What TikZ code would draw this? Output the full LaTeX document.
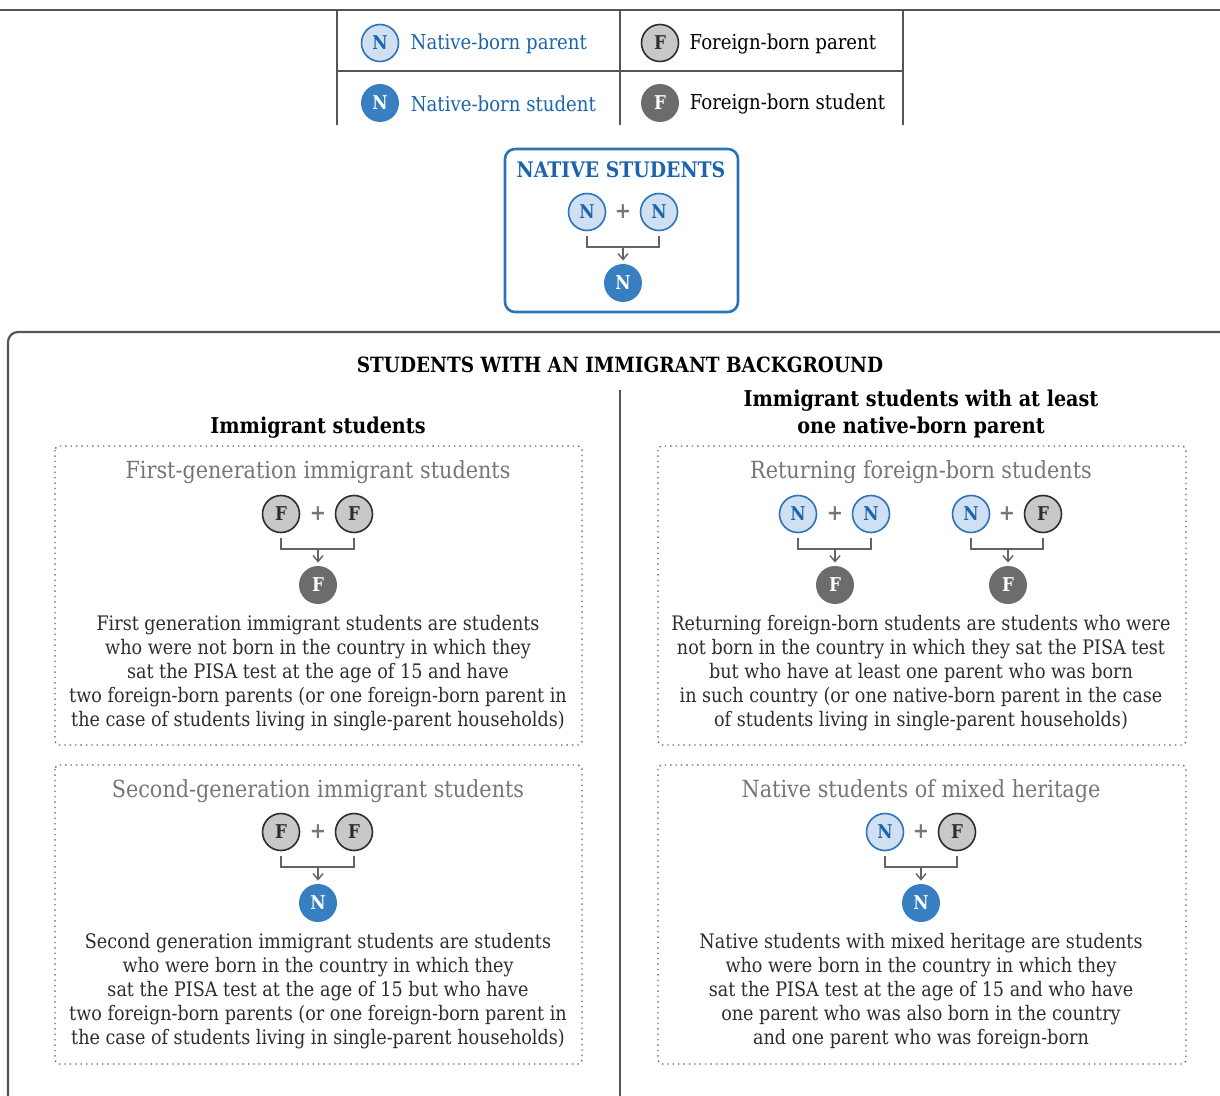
\documentclass[tikz,border=0pt]{standalone}
\usepackage{fontspec}
\setmainfont[FakeStretch=0.88]{DejaVu Serif}
\usetikzlibrary{positioning,arrows.meta}

\definecolor{nblue}{RGB}{28,100,172}
\definecolor{nborder}{RGB}{45,115,185}
\definecolor{nlight}{RGB}{206,224,241}
\definecolor{nstudent}{RGB}{55,127,192}
\definecolor{fborder}{RGB}{45,45,45}
\definecolor{flight}{RGB}{200,200,200}
\definecolor{fstudent}{RGB}{108,108,108}
\definecolor{headgray}{RGB}{118,118,118}
\definecolor{bodytext}{RGB}{45,45,45}
\definecolor{framegray}{RGB}{85,85,85}
\definecolor{brgray}{RGB}{100,100,100}

\begin{document}
\begin{tikzpicture}[x=0.5pt,y=-0.5pt,
  npar/.style={circle,draw=nborder,fill=nlight,line width=0.8pt,minimum size=18.5pt,inner sep=0pt,
    text=nblue,font=\bfseries\fontsize{9.5}{9.5}\selectfont},
  fpar/.style={circle,draw=fborder,fill=flight,line width=0.8pt,minimum size=18.5pt,inner sep=0pt,
    text=fborder,font=\bfseries\fontsize{9.5}{9.5}\selectfont},
  nstu/.style={circle,fill=nstudent,minimum size=19pt,inner sep=0pt,
    text=white,font=\bfseries\fontsize{9.5}{9.5}\selectfont},
  fstu/.style={circle,fill=fstudent,minimum size=19pt,inner sep=0pt,
    text=white,font=\bfseries\fontsize{9.5}{9.5}\selectfont},
  plus/.style={text=headgray,font=\bfseries\fontsize{11}{11}\selectfont,inner sep=0pt},
  bracket/.style={draw=brgray,line width=0.7pt},
  drop/.style={draw=brgray,line width=0.7pt,-{Straight Barb[length=3pt,width=5pt]},shorten >=1.5pt},
  legtext/.style={inner sep=0pt,font=\fontsize{10.3}{12}\selectfont},
  body/.style={inner sep=0pt,align=center,text=bodytext,font=\fontsize{10}{12}\selectfont},
  subhead/.style={inner sep=0pt,text=headgray,font=\fontsize{11.8}{13}\selectfont},
  colhead/.style={inner sep=0pt,align=center,text=black,font=\bfseries\fontsize{10.9}{13.5}\selectfont},
  caphead/.style={inner sep=0pt,text=black,font=\bfseries\fontsize{10.5}{13.5}\selectfont},
  rule/.style={draw=framegray,line width=1.1pt},
  grid/.style={draw=framegray,line width=0.6pt},
  dotbox/.style={draw=brgray,dotted,line width=0.7pt,rounded corners=2pt},
  nbox/.style={draw=nborder,line width=1.3pt,rounded corners=5pt}]

\useasboundingbox (0,0) rectangle (1220,1096);

% legend
\draw[rule] (0,10) -- (1220,10);
\draw[grid] (337,10) -- (337,125);
\draw[grid] (620,10) -- (620,125);
\draw[grid] (903,10) -- (903,125);
\draw[grid] (337,71) -- (903,71);

\node[npar] (lgNp) at (380,43) {N};
\node[fpar] (lgFp) at (660,43) {F};
\node[nstu] (lgNs) at (380,103) {N};
\node[fstu] (lgFs) at (660,103) {F};

\node[legtext,text=nblue,right=5.5pt of lgNp,yshift=-0.5pt] {Native-born parent};
\node[legtext,right=5pt of lgFp,yshift=-0.5pt] {Foreign-born parent};
\node[legtext,text=nblue,right=5.5pt of lgNs,yshift=-0.5pt] {Native-born student};
\node[legtext,right=5pt of lgFs,yshift=-0.5pt] {Foreign-born student};

% native students
\draw[nbox] (505,149) rectangle (738,312);
\node[caphead,text=nblue,font=\bfseries\fontsize{10.7}{13.5}\selectfont] at (621,170) {NATIVE STUDENTS};
\node[npar] (na) at (587,212) {N};
\node[plus] at (623,212) {+};
\node[npar] (nb) at (659,212) {N};
\coordinate (nj) at (623,247);
\node[nstu] (nc) at (623,283) {N};
\draw[bracket] ([yshift=-2.5pt]na.south) |- (nj) -| ([yshift=-2.5pt]nb.south);
\draw[drop] (nj) -- (nc.north);

% immigrant background frame
\draw[rule,rounded corners=5pt] (8,1120) -- (8,332) -- (1240,332);
\draw[grid] (620,390) -- (620,1096);
\node[caphead] at (620,365) {STUDENTS WITH AN IMMIGRANT BACKGROUND};
\node[colhead] at (318,428) {Immigrant students};
\node[colhead] at (921,414) {Immigrant students with at least\\one native-born parent};

% first generation
\draw[dotbox] (55,446) rectangle (582,745);
\node[subhead] at (318,472) {First-generation immigrant students};
\node[fpar] (ga) at (281,514) {F};
\node[plus] at (318,514) {+};
\node[fpar] (gb) at (354,514) {F};
\coordinate (gj) at (318,549);
\node[fstu] (gc) at (318,585) {F};
\draw[bracket] ([yshift=-2.5pt]ga.south) |- (gj) -| ([yshift=-2.5pt]gb.south);
\draw[drop] (gj) -- (gc.north);
\node[body,anchor=north] at (318,615) {First generation immigrant students are students\\
who were not born in the country in which they\\
sat the PISA test at the age of 15 and have\\
two foreign-born parents (or one foreign-born parent in\\
the case of students living in single-parent households)};

% second generation
\draw[dotbox] (55,765) rectangle (582,1064);
\node[subhead] at (318,791) {Second-generation immigrant students};
\node[fpar] (sa) at (281,832) {F};
\node[plus] at (318,832) {+};
\node[fpar] (sb) at (354,832) {F};
\coordinate (sj) at (318,867);
\node[nstu] (sc) at (318,903) {N};
\draw[bracket] ([yshift=-2.5pt]sa.south) |- (sj) -| ([yshift=-2.5pt]sb.south);
\draw[drop] (sj) -- (sc.north);
\node[body,anchor=north] at (318,933) {Second generation immigrant students are students\\
who were born in the country in which they\\
sat the PISA test at the age of 15 but who have\\
two foreign-born parents (or one foreign-born parent in\\
the case of students living in single-parent households)};

% returning foreign-born
\draw[dotbox] (658,446) rectangle (1186,745);
\node[subhead] at (921,472) {Returning foreign-born students};
\node[npar] (ra) at (798,514) {N};
\node[plus] at (835,514) {+};
\node[npar] (rb) at (871,514) {N};
\coordinate (rj) at (835,549);
\node[fstu] (rc) at (835,585) {F};
\draw[bracket] ([yshift=-2.5pt]ra.south) |- (rj) -| ([yshift=-2.5pt]rb.south);
\draw[drop] (rj) -- (rc.north);
\node[npar] (qa) at (971,514) {N};
\node[plus] at (1007,514) {+};
\node[fpar] (qb) at (1043,514) {F};
\coordinate (qj) at (1008,549);
\node[fstu] (qc) at (1008,585) {F};
\draw[bracket] ([yshift=-2.5pt]qa.south) |- (qj) -| ([yshift=-2.5pt]qb.south);
\draw[drop] (qj) -- (qc.north);
\node[body,anchor=north] at (921,615) {Returning foreign-born students are students who were\\
not born in the country in which they sat the PISA test\\
but who have at least one parent who was born\\
in such country (or one native-born parent in the case\\
of students living in single-parent households)};

% mixed heritage
\draw[dotbox] (658,765) rectangle (1186,1064);
\node[subhead] at (921,791) {Native students of mixed heritage};
\node[npar] (ma) at (885,832) {N};
\node[plus] at (921,832) {+};
\node[fpar] (mb) at (957,832) {F};
\coordinate (mj) at (921,867);
\node[nstu] (mc) at (921,903) {N};
\draw[bracket] ([yshift=-2.5pt]ma.south) |- (mj) -| ([yshift=-2.5pt]mb.south);
\draw[drop] (mj) -- (mc.north);
\node[body,anchor=north] at (921,933) {Native students with mixed heritage are students\\
who were born in the country in which they\\
sat the PISA test at the age of 15 and who have\\
one parent who was also born in the country\\
and one parent who was foreign-born};

\end{tikzpicture}
\end{document}
